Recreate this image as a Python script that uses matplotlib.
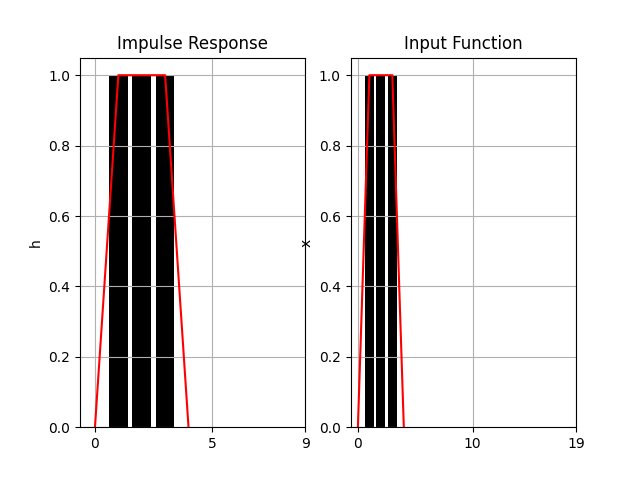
import matplotlib
matplotlib.use("Agg")
import matplotlib.pyplot as plt

n = [0, 1, 2, 3, 4]
h = [0, 1, 1, 1, 0]
x = [0, 1, 1, 1, 0]
left_ticks = [0, 5, 9]
right_ticks = [0, 10, 19]

fig, (ax1, ax2) = plt.subplots(1, 2, figsize=(6.4, 4.8), dpi=100)

ax1.bar(n, h, color="black")
ax1.plot(n, h, color="red")
ax1.set_xlim(right=9)
ax1.set_xticks(left_ticks)
ax1.set_title("Impulse Response")
ax1.set_ylabel("h")
ax1.grid(True)

ax2.bar(n, x, color="black")
ax2.plot(n, x, color="red")
ax2.set_xlim(right=19)
ax2.set_xticks(right_ticks)
ax2.set_title("Input Function")
ax2.set_ylabel("x")
ax2.grid(True)

fig.savefig("out.png")
